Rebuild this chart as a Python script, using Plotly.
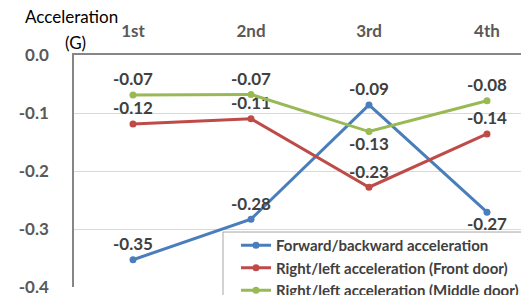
import plotly.graph_objects as go

categories = ["1st", "2nd", "3rd", "4th"]
forward_backward = [-0.353, -0.283, -0.086, -0.271]
front_door = [-0.119, -0.110, -0.228, -0.136]
middle_door = [-0.069, -0.068, -0.132, -0.079]
y_ticks = [0.0, -0.1, -0.2, -0.3, -0.4]
y_tick_labels = ["0.0", "-0.1", "-0.2", "-0.3", "-0.4"]

series = [
    ("Forward/backward acceleration", forward_backward, "#4a7ebb",
     ["top center", "top center", "top center", "bottom center"]),
    ("Right/left acceleration (Front door)", front_door, "#be4b48",
     ["top center", "top center", "top center", "top center"]),
    ("Right/left acceleration (Middle door)", middle_door, "#98b954",
     ["top center", "top center", "bottom center", "top center"]),
]

FONT = "Lato"
fig = go.Figure()
for name, vals, color, pos in series:
    fig.add_trace(go.Scatter(
        x=categories, y=vals, name=name, mode="lines+markers+text",
        line=dict(color=color, width=3), marker=dict(color=color, size=7),
        text=[f"{v:.2f}" for v in vals], textposition=pos,
        textfont=dict(family=FONT, size=17, color="#404040", weight="bold"),
        cliponaxis=False,
    ))

# page body has an 8px offset; margins compensate so the plot area lands where the reference has it
fig.update_layout(
    width=529, height=295,
    margin=dict(l=66, r=8, t=47, b=16, autoexpand=False),
    paper_bgcolor="white", plot_bgcolor="white",
    showlegend=True,
    legend=dict(x=0.356, y=0.25, xanchor="left", yanchor="top",
                bgcolor="rgba(0,0,0,0)", borderwidth=0,
                font=dict(family=FONT, size=15, color="#404040", weight="bold"),
                tracegroupgap=0, itemwidth=30),
    font=dict(family=FONT),
)
# legend box frame running off the right and bottom edges, as in the reference
fig.add_shape(type="rect", xref="paper", yref="paper",
              x0=0.3275, x1=1.2, y0=-0.3, y1=0.237,
              fillcolor="white", line=dict(color="#a6a6a6", width=1), layer="above")
fig.update_xaxes(
    type="category", side="top", range=[-0.5, 3.356],
    showline=True, linecolor="#868686", linewidth=1.5,
    showgrid=False, ticks="", automargin=False, ticklabelstandoff=9,
    tickfont=dict(family=FONT, size=17, color="#595959", weight="bold"),
)
fig.update_yaxes(
    range=[-0.4, 0], tickvals=y_ticks, ticktext=y_tick_labels,
    showline=True, linecolor="#868686", linewidth=1.5,
    showgrid=True, gridcolor="#d9d9d9", gridwidth=1,
    zeroline=False, ticks="", ticklabelstandoff=20, automargin=False,
    tickfont=dict(family=FONT, size=17, color="#595959", weight="bold"),
)
fig.add_annotation(text="Acceleration", x=-0.0055, y=1.164, xref="paper", yref="paper",
                   xanchor="center", yanchor="middle", showarrow=False,
                   font=dict(family=FONT, size=17, color="#000000"))
fig.add_annotation(text="(G)", x=0.0022, y=1.056, xref="paper", yref="paper",
                   xanchor="center", yanchor="middle", showarrow=False,
                   font=dict(family=FONT, size=17, color="#000000"))
fig.write_html("out.html")
